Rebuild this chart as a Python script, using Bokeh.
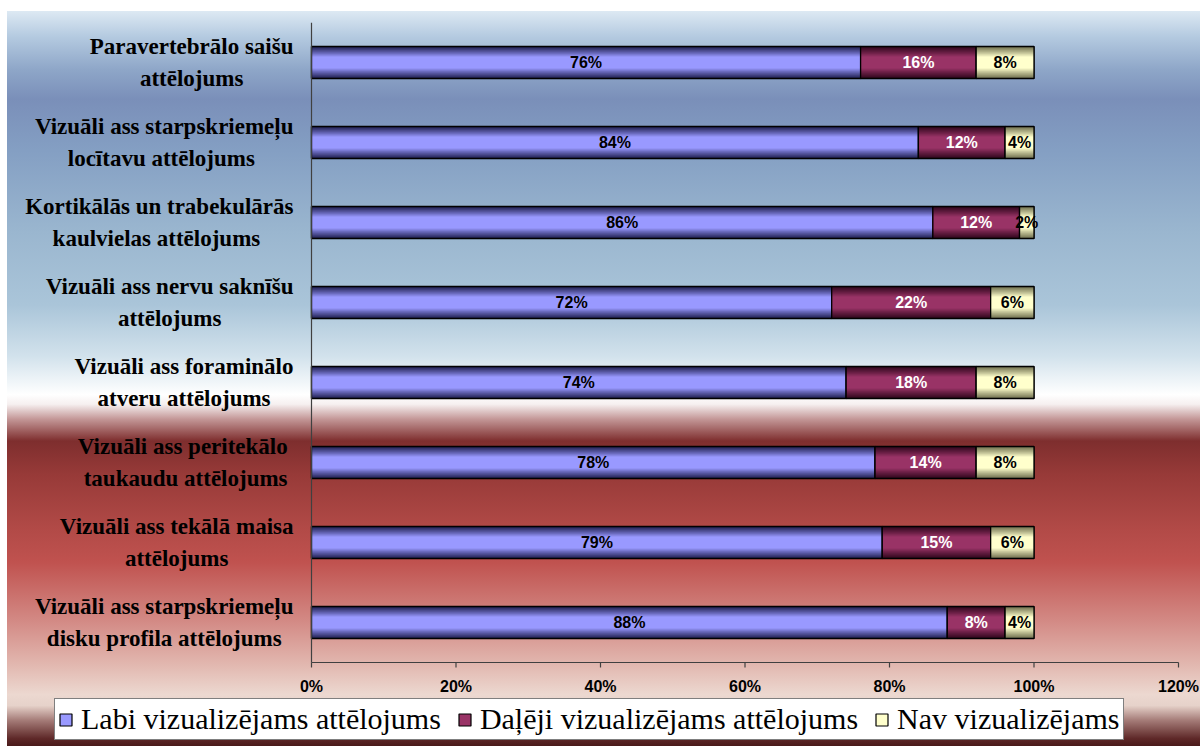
import numpy as np
from bokeh.plotting import figure
from bokeh.models import Range1d, Legend, LegendItem
from bokeh.core.properties import value
from bokeh.embed import file_html
from bokeh.resources import INLINE

# ---------------- data ----------------
categories = [
    "Paravertebrālo saišu\nattēlojums",
    "Vizuāli ass starpskriemeļu\nlocītavu  attēlojums",
    "Kortikālās un trabekulārās\nkaulvielas  attēlojums",
    "Vizuāli ass nervu saknīšu\nattēlojums",
    "Vizuāli ass foraminālo\natveru attēlojums",
    "Vizuāli ass  peritekālo\ntaukaudu attēlojums",
    "Vizuāli ass tekālā maisa\nattēlojums",
    "Vizuāli ass starpskriemeļu\ndisku profila attēlojums",
]
labi = [76, 84, 86, 72, 74, 78, 79, 88]
daleji = [16, 12, 12, 22, 18, 14, 15, 8]
nav = [8, 4, 2, 6, 8, 8, 6, 4]
series_names = ["Labi vizualizējams attēlojums", "Daļēji vizualizējams attēlojums", "Nav vizualizējams"]
x_ticks = [0, 20, 40, 60, 80, 100, 120]

# ---------------- styles / layout ----------------
base_colors = [(153, 153, 255), (153, 51, 102), (255, 255, 204)]
edge_colors = [(34, 34, 84), (50, 8, 30), (115, 115, 82)]
label_colors = ["black", "white", "black"]
BAR_H = 0.4
LAYERS = 12
X_MAX = 1.2
PX_X = 722.5              # pixels per unit (100%) on the value axis
PX_Y = 80.0               # pixels per category slot
X_LEFT_PAD = 304 / PX_X    # room left of the value axis for category labels
X_RIGHT_PAD = 22 / PX_X    # room right of 120% for its tick label
Y_BOTTOM_PAD = 84 / PX_Y   # room below the value axis for tick labels + legend
TICK_LEN = 5 / PX_Y
AXIS_COLOR = "#404040"
SERIF = "Liberation Serif"


def mix(a, b, t):
    return "#%02x%02x%02x" % tuple(int(round(a[i] * (1 - t) + b[i] * t)) for i in range(3))


grad = ("linear-gradient(to bottom, #dde9f3 0%, #b4cae0 3.5%, #8ea6c8 8%, #7a8fb9 12%, "
        "#849fc3 19%, #9ab6cf 30%, #aac5d9 40%, #d2e2ec 47%, #ffffff 52.2%, #f6f0f0 53.5%, "
        "#c49898 55.5%, #7e2e2e 58.5%, #973a38 63%, #b04946 70%, #c0524f 75%, #d38a85 83%, "
        "#e2b8b0 89%, #ecd8d0 93%, #e6d2ca 94.5%, #a57c78 96.5%, #5e2828 99%, #4a1a1a 100%)")

n = len(categories)
ypos = (n - 1 - np.arange(n)) + 0.5   # first category on top

p = figure(
    width=1200, height=746,
    x_range=Range1d(-X_LEFT_PAD, X_MAX + X_RIGHT_PAD),
    y_range=Range1d(-Y_BOTTOM_PAD, n),
    output_backend="svg", toolbar_location=None,
    min_border_left=7, min_border_right=0, min_border_top=22, min_border_bottom=0,
)
p.styles = {"background": f"{grad} 7px 11px / 1193px 735px no-repeat, #ffffff"}
p.border_fill_color = None
p.background_fill_color = None
p.outline_line_color = None
p.xgrid.grid_line_color = None
p.ygrid.grid_line_color = None
p.xaxis.visible = False
p.yaxis.visible = False

series = [np.array(labi) / 100, np.array(daleji) / 100, np.array(nav) / 100]
lefts = [np.zeros(n), series[0], series[0] + series[1]]

legend_items = []
for s, vals in enumerate(series):
    left = lefts[s]
    right = left + vals
    base = p.hbar(y=ypos, left=left, right=right, height=BAR_H,
                  fill_color=mix(base_colors[s], base_colors[s], 0), line_color="black", line_width=1.2)
    legend_items.append(LegendItem(label=series_names[s], renderers=[base]))
    for k in range(LAYERS):
        frac = 1 - k * (0.62 / (LAYERS - 1))
        t = (1 - k / (LAYERS - 1)) ** 0.9
        p.hbar(y=ypos, left=left, right=right, height=BAR_H * frac,
               fill_color=mix(base_colors[s], edge_colors[s], t), line_color=None)
    p.hbar(y=ypos, left=left, right=right, height=BAR_H,
           fill_color=None, line_color="black", line_width=1.3)

for s, vals in enumerate(series):
    mids = lefts[s] + vals / 2
    p.text(x=mids, y=ypos, text=[f"{int(round(v * 100))}%" for v in vals],
           text_align="center", text_baseline="middle",
           text_font=value("Liberation Sans"), text_font_style="bold", text_font_size="16px",
           text_color=label_colors[s])

# category labels (centered lines, right-anchored block)
p.text(x=[0] * n, y=ypos, text=categories,
       x_offset=-18, anchor="center_right", text_align="center", text_baseline="middle",
       text_font=value(SERIF), text_font_style="bold", text_font_size="23px",
       text_line_height=1.3, text_color="black")

# axes drawn from the data scales
p.segment(x0=[0], y0=[0], x1=[0], y1=[n], line_color=AXIS_COLOR, line_width=1.2)
p.segment(x0=[0], y0=[0], x1=[X_MAX], y1=[0], line_color=AXIS_COLOR, line_width=1.2)
tick_x = [t / 100 for t in x_ticks]
p.segment(x0=tick_x, y0=[0] * len(tick_x), x1=tick_x, y1=[-TICK_LEN] * len(tick_x),
          line_color=AXIS_COLOR, line_width=1.2)
p.text(x=tick_x, y=[0] * len(tick_x), text=[f"{t}%" for t in x_ticks],
       y_offset=15, text_align="center", text_baseline="top",
       text_font=value("Liberation Sans"), text_font_style="bold", text_font_size="16px",
       text_color="black")

legend = Legend(items=legend_items, orientation="horizontal", location=(47, 6),
                label_text_font=SERIF, label_text_font_size="30px",
                label_text_color="black", glyph_width=15, glyph_height=15,
                label_standoff=8, spacing=16, padding=3, margin=0,
                border_line_color="black", border_line_width=1,
                background_fill_color="white", background_fill_alpha=1)
p.add_layout(legend, "center")

open("out.html", "w").write(file_html(p, INLINE))
